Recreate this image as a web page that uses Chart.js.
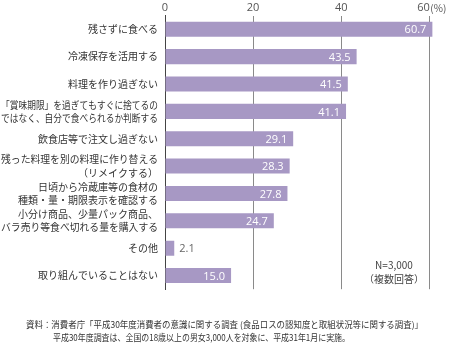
<!DOCTYPE html>
<html>
<head>
<meta charset="utf-8">
<script src="https://cdn.jsdelivr.net/npm/chart.js@4"></script>
<style>
  body { margin: 0; background: #fff; }
  #wrap { width: 450px; height: 346px; }
</style>
</head>
<body>
<div id="wrap"><canvas id="chart" width="450" height="346"></canvas></div>
<script>
const categories = [
  '残さずに食べる',
  '冷凍保存を活用する',
  '料理を作り過ぎない',
  ['「賞味期限」を過ぎてもすぐに捨てるの', 'ではなく、自分で食べられるか判断する'],
  '飲食店等で注文し過ぎない',
  ['残った料理を別の料理に作り替える', '（リメイクする）'],
  ['日頃から冷蔵庫等の食材の', '種類・量・期限表示を確認する'],
  ['小分け商品、少量パック商品、', 'バラ売り等食べ切れる量を購入する'],
  'その他',
  '取り組んでいることはない'
];
const values = [60.7, 43.5, 41.5, 41.1, 29.1, 28.3, 27.8, 24.7, 2.1, 15.0];
const tickValues = [0, 20, 40, 60];
const noteLines = [
  '資料：消費者庁「平成30年度消費者の意識に関する調査 (食品ロスの認知度と取組状況等に関する調査)」',
  '平成30年度調査は、全国の18歳以上の男女3,000人を対象に、平成31年1月に実施。'
];
const sampleText = ['N=3,000', '（複数回答）'];

const JP = "'Noto Sans CJK JP', 'Noto Sans', sans-serif";
const NUM = "'Open Sans', 'Noto Sans', sans-serif";

const extras = {
  id: 'extras',
  afterDatasetsDraw(chart) {
    const ctx = chart.ctx;
    const meta = chart.getDatasetMeta(0);
    ctx.save();
    ctx.font = '11px ' + NUM;
    ctx.textBaseline = 'middle';
    meta.data.forEach((bar, i) => {
      const v = values[i];
      if (v < 5) {
        ctx.fillStyle = '#666';
        ctx.textAlign = 'left';
        ctx.fillText(v.toFixed(1), bar.x + 5, bar.y + 1);
      } else {
        ctx.fillStyle = '#fff';
        ctx.textAlign = 'right';
        ctx.fillText(v.toFixed(1), bar.x - 6, bar.y + 1);
      }
    });
    ctx.restore();
  },
  afterDraw(chart) {
    const ctx = chart.ctx;
    const xs = chart.scales.x;
    const ys = chart.scales.y;
    ctx.save();
    // category labels (condensed to fit like the original)
    ctx.fillStyle = '#333';
    ctx.font = '10px ' + JP;
    ctx.textAlign = 'right';
    ctx.textBaseline = 'middle';
    const right = chart.chartArea.left - 7;
    categories.forEach((lab, i) => {
      const cy = ys.getPixelForValue(i);
      const lines = Array.isArray(lab) ? lab : [lab];
      const lh = 13.3;
      lines.forEach((ln, j) => {
        const y = cy + (j - (lines.length - 1) / 2) * lh;
        ctx.fillText(ln, right, y, right - 1);
      });
    });
    // top tick labels
    ctx.fillStyle = '#555';
    ctx.font = '11px ' + NUM;
    tickValues.forEach(t => {
      const px = xs.getPixelForValue(t);
      if (t === 60) {
        ctx.textAlign = 'right';
        ctx.fillText(String(t), px + 0.5, 8);
        ctx.textAlign = 'left';
        ctx.font = '10px ' + JP;
        ctx.fillText('(%)', px + 1, 8);
        ctx.font = '11px ' + NUM;
      } else {
        ctx.textAlign = 'center';
        ctx.fillText(String(t), px, 8);
      }
    });
    // sample size note
    ctx.fillStyle = '#444';
    ctx.textAlign = 'center';
    ctx.font = '10px ' + JP;
    ctx.fillText(sampleText[0], 394, 265);
    ctx.fillText(sampleText[1], 394, 279);
    // source notes
    ctx.fillStyle = '#333';
    ctx.textAlign = 'left';
    ctx.font = '9px ' + JP;
    ctx.fillText(noteLines[0], 26, 325, 397);
    ctx.fillText(noteLines[1], 53, 338, 297);
    ctx.restore();
  }
};

new Chart(document.getElementById('chart'), {
  type: 'bar',
  data: {
    labels: categories,
    datasets: [{
      data: values,
      backgroundColor: '#a798c4',
      borderWidth: 0,
      barPercentage: 0.55,
      categoryPercentage: 1.0
    }]
  },
  options: {
    indexAxis: 'y',
    responsive: false,
    animation: false,
    layout: { padding: { left: 0, right: 16.3, top: 0, bottom: 56.8 } },
    plugins: { legend: { display: false }, tooltip: { enabled: false } },
    scales: {
      x: {
        position: 'top',
        min: 0,
        max: 61,
        afterBuildTicks: s => { s.ticks = tickValues.map(v => ({ value: v })); },
        afterFit: s => { s.height = 15.6; },
        ticks: { display: false },
        grid: { color: '#8a8a8a', lineWidth: 1, drawTicks: false },
        border: { display: false }
      },
      y: {
        afterFit: s => { s.width = 165; },
        ticks: { display: false },
        grid: { display: false, drawTicks: false },
        border: { display: true, color: '#444', width: 1 }
      }
    }
  },
  plugins: [extras]
});
</script>
</body>
</html>
